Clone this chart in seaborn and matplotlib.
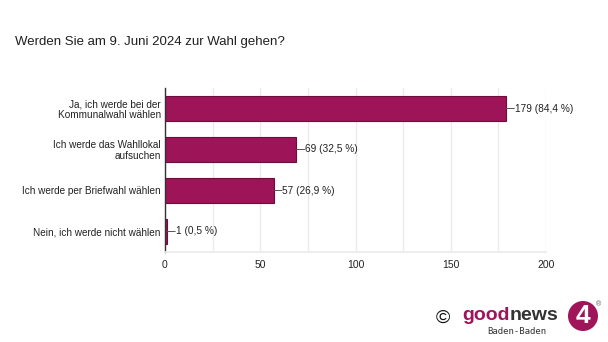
import matplotlib
matplotlib.use("Agg")
import matplotlib.pyplot as plt
import seaborn as sns
import pandas as pd
from matplotlib.patches import Circle

categories = [
    "Ja, ich werde bei der\nKommunalwahl wählen",
    "Ich werde das Wahllokal\naufsuchen",
    "Ich werde per Briefwahl wählen",
    "Nein, ich werde nicht wählen",
]
counts = [179, 69, 57, 1]
labels = ["179 (84,4 %)", "69 (32,5 %)", "57 (26,9 %)", "1 (0,5 %)"]
xticks = [0, 50, 100, 150, 200]
title = "Werden Sie am 9. Juni 2024 zur Wahl gehen?"

sns.set_theme(style="white")
plt.rcParams["font.family"] = ["Liberation Sans", "DejaVu Sans"]

W, H = 608, 342
fig = plt.figure(figsize=(W / 100, H / 100), dpi=100)
fig.patch.set_facecolor("white")
ax = fig.add_axes([165 / W, 1 - 252 / H, (546 - 165) / W, (252 - 88) / H])

df = pd.DataFrame({"cat": categories, "n": counts})
bar_color = "#9e1458"
sns.barplot(data=df, y="cat", x="n", orient="h", color=bar_color,
            edgecolor="#6e0c3c", linewidth=0.8, width=0.63, saturation=1, ax=ax)

ax.set_xlim(0, 200)
ax.set_ylim(3.5, -0.5)
ax.set_xticks(xticks)
ax.set_xticks(range(0, 201, 25), minor=True)
ax.grid(axis="x", which="both", color="#ebebeb", linewidth=1)
ax.set_axisbelow(True)
for s in ["top", "right"]:
    ax.spines[s].set_visible(False)
ax.spines["bottom"].set_color("#ebebeb")
ax.spines["left"].set_color("#333333")
ax.spines["left"].set_linewidth(1)
ax.set_xlabel("")
ax.set_ylabel("")
ax.set_yticks(range(len(categories)))
ax.set_yticklabels(categories, multialignment="right", linespacing=1.1)
ax.tick_params(axis="both", length=0, colors="#222222")
ax.tick_params(axis="x", pad=6, labelsize=7.5)
ax.tick_params(axis="y", pad=3, labelsize=7.2)

for i, (v, lab) in enumerate(zip(counts, labels)):
    ax.annotate("", xy=(v, i), xytext=(6, 0), textcoords="offset points",
                arrowprops=dict(arrowstyle="-", color="#555555", lw=0.7,
                                shrinkA=0, shrinkB=0))
    ax.annotate(lab, xy=(v, i), xytext=(6.3, 0), textcoords="offset points",
                va="center", ha="left", fontsize=7.3, color="#222222")

fig.text(15 / W, 1 - 42 / H, title, fontsize=9.5, color="#202020",
         ha="left", va="center")

# logo
fig.text(443 / W, 1 - 318 / H, "©", fontsize=14, color="#111111",
         ha="center", va="center")
t_good = fig.text(462 / W, 1 - 315 / H, "good", fontsize=14, fontweight="bold",
                  color="#a0145a", ha="left", va="center")
fig.canvas.draw()
r = fig.canvas.get_renderer()
bb = t_good.get_window_extent(renderer=r)
fig.text(bb.x1 / W, 1 - 315 / H, "news", fontsize=14, fontweight="bold",
         color="#333333", ha="left", va="center")
fig.text(517 / W, 1 - 332 / H, "Baden-Baden", fontsize=6.5,
         family="DejaVu Sans Mono", color="#333333", ha="center", va="center")
circ = Circle((583 / 100, (H - 316) / 100), 15 / 100,
              transform=fig.dpi_scale_trans,
              facecolor="#a0145a", edgecolor="none")
fig.patches.append(circ)
fig.text(583 / W, 1 - 316 / H, "4", fontsize=19, fontweight="bold",
         color="white", ha="center", va="center")
fig.text(599 / W, 1 - 305 / H, "®", fontsize=5, color="#555555",
         ha="center", va="center")

fig.savefig("out.png", dpi=100, facecolor="white")
